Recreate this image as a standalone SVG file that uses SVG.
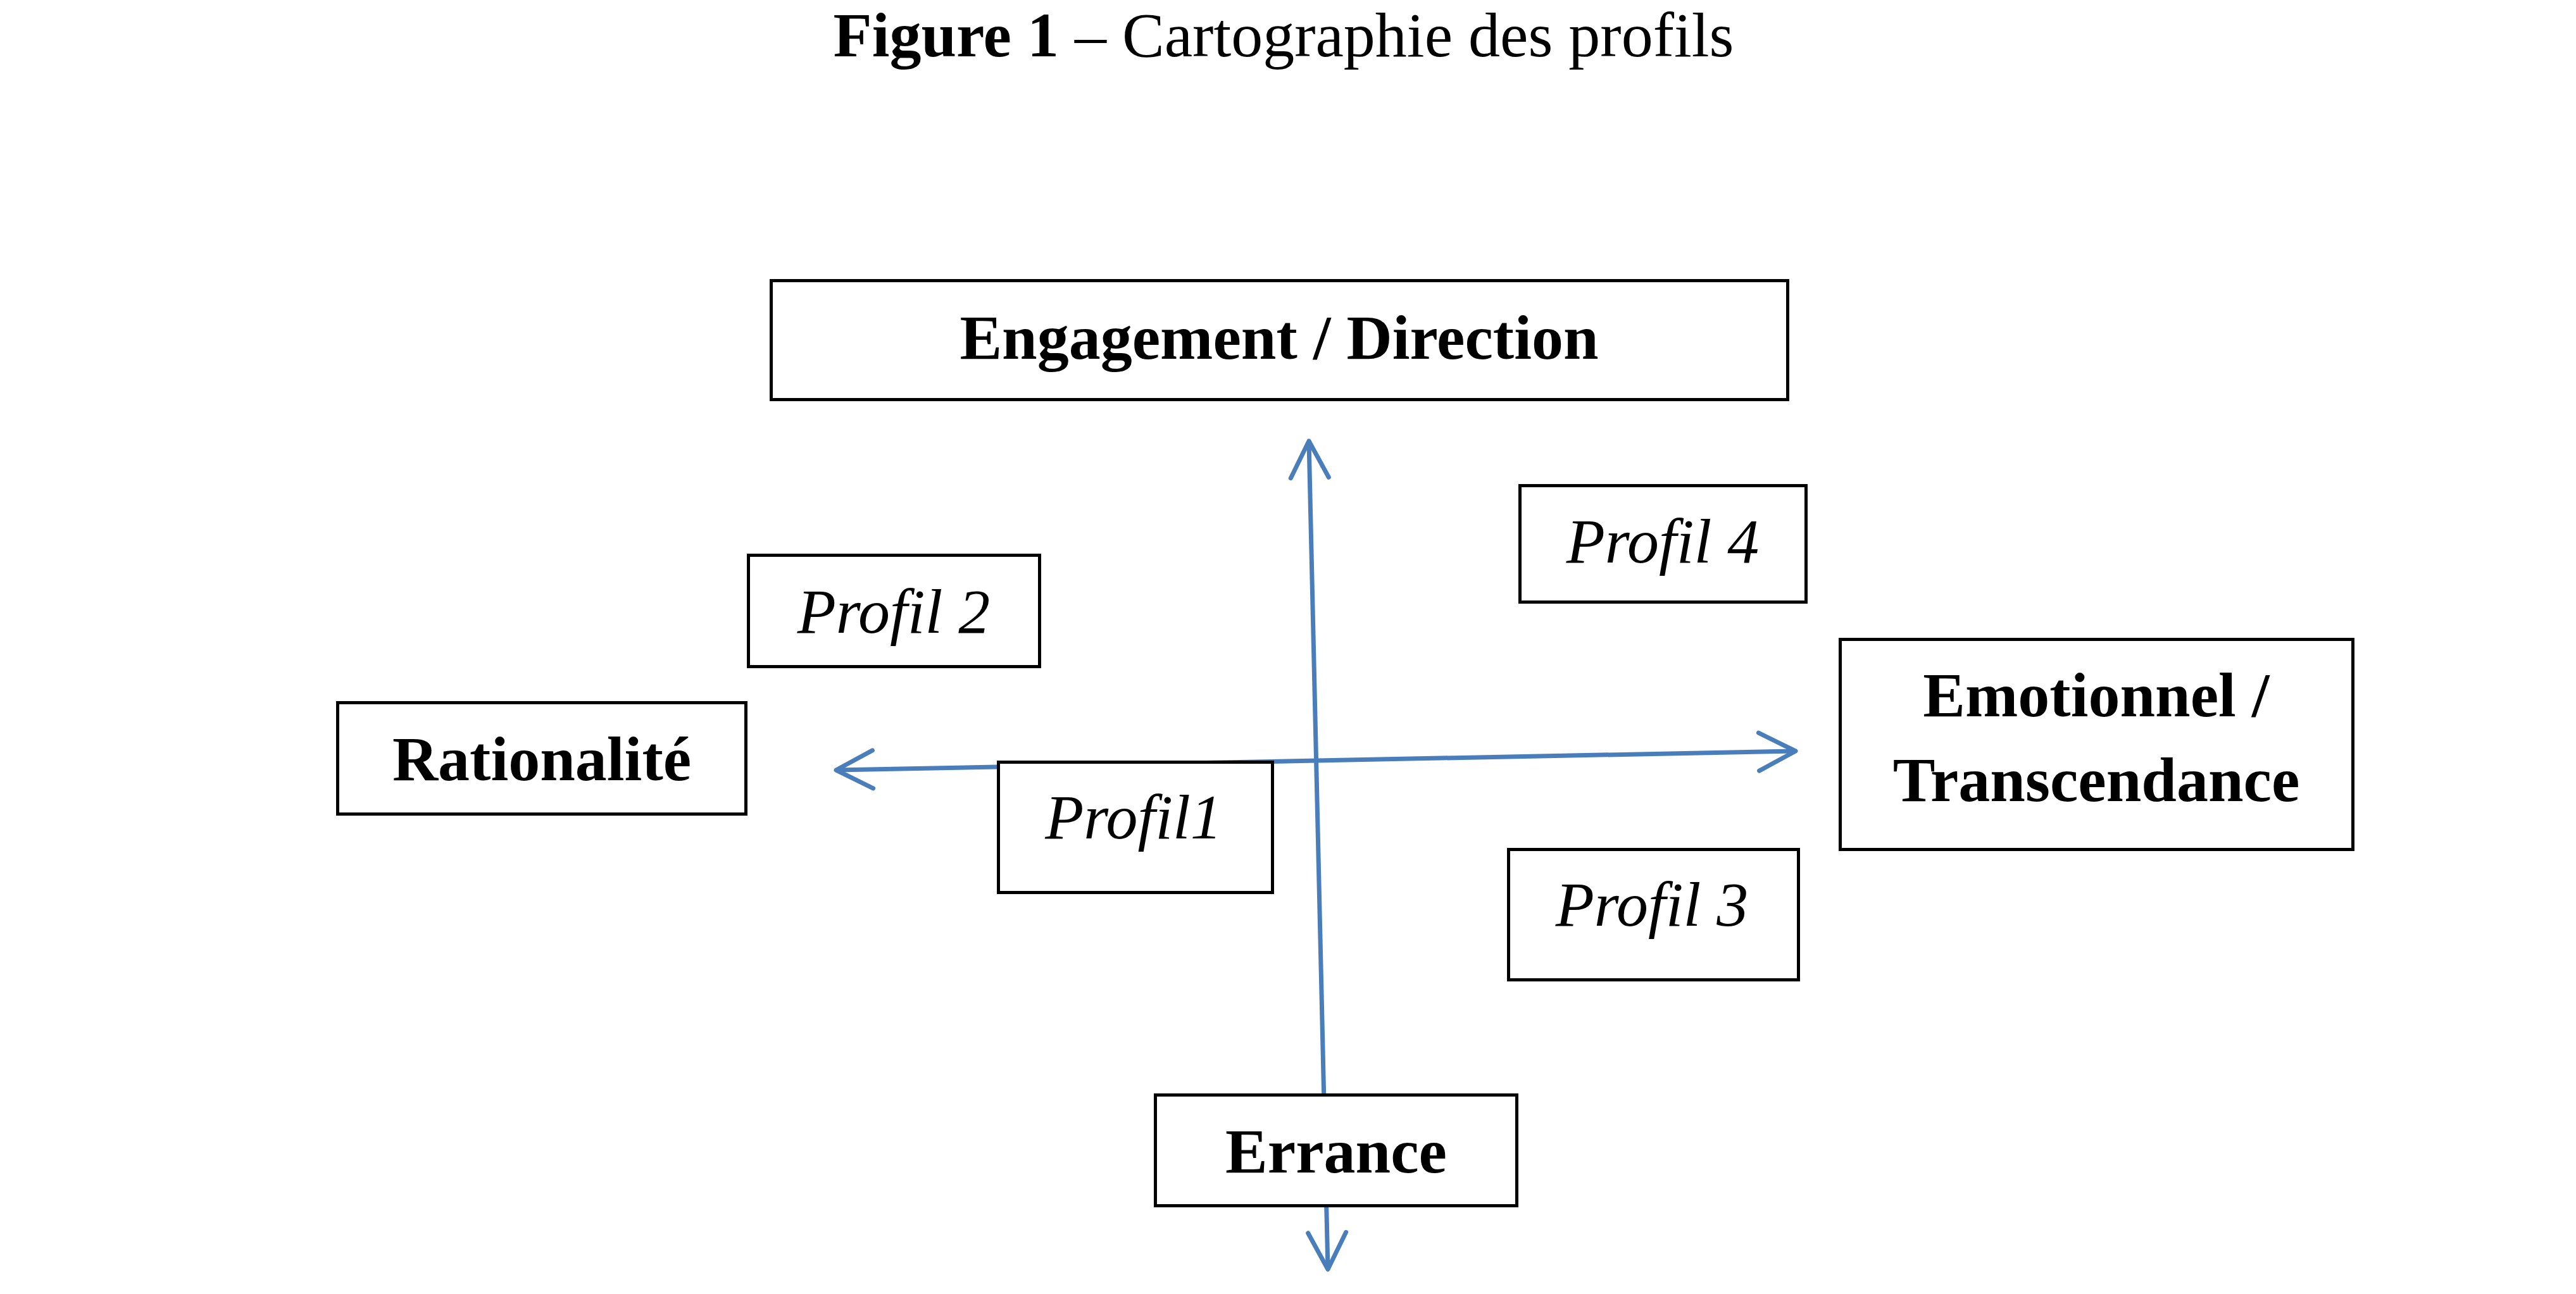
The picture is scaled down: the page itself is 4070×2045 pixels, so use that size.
<svg xmlns="http://www.w3.org/2000/svg" width="4070" height="2045" viewBox="0 0 4070 2045">
<style>
.box{fill:#ffffff;stroke:#000000;stroke-width:5}
.lbl{font-family:"Liberation Serif","Times New Roman",serif;font-size:100px;font-weight:bold;fill:#000;text-anchor:middle}
.prf{font-family:"Liberation Serif","Times New Roman",serif;font-size:100px;font-style:italic;fill:#000;text-anchor:middle}
.axis{fill:none;stroke:#4A7EBB;stroke-width:7}
</style>
<defs>
<marker id="arr" markerUnits="userSpaceOnUse" markerWidth="90" markerHeight="90" viewBox="-70 -45 90 90" refX="0" refY="0" orient="auto-start-reverse" overflow="visible">
<path d="M-58,-30 L0,0 L-58,30" fill="none" stroke="#4A7EBB" stroke-width="7" stroke-linecap="round" stroke-linejoin="round"/>
</marker>
</defs>
<rect width="4070" height="2045" fill="#ffffff"/>
<text x="2028" y="89" font-family="'Liberation Serif','Times New Roman',serif" font-size="100" text-anchor="middle" fill="#000"><tspan font-weight="bold">Figure 1 </tspan>– Cartographie des profils</text>
<g id="connectors">
<line class="axis" x1="1321" y1="1217" x2="2837" y2="1187" marker-start="url(#arr)" marker-end="url(#arr)"/>
<line class="axis" x1="2068" y1="697" x2="2098" y2="2006" marker-start="url(#arr)" marker-end="url(#arr)"/>
</g>
<g id="engagement">
<rect class="box" x="1218.5" y="443.5" width="1606" height="188"/>
<text class="lbl" x="2021" y="567">Engagement / Direction</text>
</g>
<g id="rationalite">
<rect class="box" x="533.5" y="1110.5" width="645" height="176"/>
<text class="lbl" x="856" y="1233">Rationalité</text>
</g>
<g id="emotionnel">
<rect class="box" x="2907.5" y="1010.5" width="810" height="332"/>
<text class="lbl" x="3312" y="1132">Emotionnel /</text>
<text class="lbl" x="3312" y="1266">Transcendance</text>
</g>
<g id="errance">
<rect class="box" x="1825.5" y="1730.5" width="571" height="175"/>
<text class="lbl" x="2111" y="1853">Errance</text>
</g>
<g id="profil1">
<rect class="box" x="1577.5" y="1204.5" width="433" height="206"/>
<text class="prf" x="1791" y="1325">Profil1</text>
</g>
<g id="profil2">
<rect class="box" x="1182.5" y="877.5" width="460" height="176"/>
<text class="prf" x="1412" y="1000">Profil 2</text>
</g>
<g id="profil3">
<rect class="box" x="2383.5" y="1342.5" width="458" height="206"/>
<text class="prf" x="2610" y="1463">Profil 3</text>
</g>
<g id="profil4">
<rect class="box" x="2401.5" y="767.5" width="452" height="184"/>
<text class="prf" x="2627" y="889">Profil 4</text>
</g>
</svg>
